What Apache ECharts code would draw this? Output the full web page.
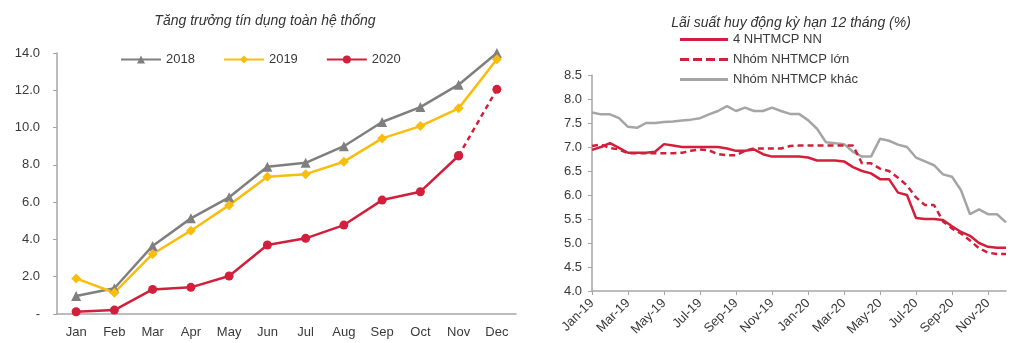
<!DOCTYPE html>
<html>
<head>
<meta charset="utf-8">
<script src="https://cdn.jsdelivr.net/npm/echarts@6/dist/echarts.min.js"></script>
<style>
  html, body { margin: 0; padding: 0; background: #fff; }
  #chart { width: 1016px; height: 343px; }
</style>
</head>
<body>
<div id="chart"></div>
<script>
// Left panel: system-wide credit growth (% YTD), by month
const months = ['Jan', 'Feb', 'Mar', 'Apr', 'May', 'Jun', 'Jul', 'Aug', 'Sep', 'Oct', 'Nov', 'Dec'];
const credit2018 = [0.97, 1.38, 3.65, 5.13, 6.26, 7.9, 8.11, 9.0, 10.3, 11.1, 12.3, 14.0];
const credit2019 = [1.91, 1.14, 3.22, 4.47, 5.84, 7.36, 7.5, 8.17, 9.42, 10.08, 11.03, 13.66];
const credit2020 = [0.12, 0.21, 1.32, 1.43, 2.04, 3.7, 4.06, 4.77, 6.11, 6.56, 8.49, null];
// Nov -> Dec 2020 estimate, drawn dashed
const credit2020Est = [null, null, null, null, null, null, null, null, null, null, 8.49, 12.05];

// Right panel: 12-month deposit rates (%), semi-monthly observations
const periods = [
  '2019-01-01', '2019-01-16', '2019-02-01', '2019-02-16', '2019-03-01', '2019-03-16',
  '2019-04-01', '2019-04-16', '2019-05-01', '2019-05-16', '2019-06-01', '2019-06-16',
  '2019-07-01', '2019-07-16', '2019-08-01', '2019-08-16', '2019-09-01', '2019-09-16',
  '2019-10-01', '2019-10-16', '2019-11-01', '2019-11-16', '2019-12-01', '2019-12-16',
  '2020-01-01', '2020-01-16', '2020-02-01', '2020-02-16', '2020-03-01', '2020-03-16',
  '2020-04-01', '2020-04-16', '2020-05-01', '2020-05-16', '2020-06-01', '2020-06-16',
  '2020-07-01', '2020-07-16', '2020-08-01', '2020-08-16', '2020-09-01', '2020-09-16',
  '2020-10-01', '2020-10-16', '2020-11-01', '2020-11-16', '2020-12-01'
];
const rateStateBanks = [
  6.94, 7.0, 7.08, 6.98, 6.88, 6.88, 6.88, 6.9, 7.06, 7.03, 7.0, 7.0,
  7.0, 7.0, 7.0, 6.97, 6.92, 6.92, 6.95, 6.85, 6.8, 6.8, 6.8, 6.8,
  6.78, 6.72, 6.72, 6.72, 6.7, 6.58, 6.5, 6.45, 6.33, 6.33, 6.05, 6.0,
  5.52, 5.5, 5.5, 5.48, 5.35, 5.23, 5.15, 5.0, 4.92, 4.9, 4.9
];
const rateLargeBanks = [
  7.02, 7.05, 6.98, 6.95, 6.87, 6.87, 6.87, 6.87, 6.87, 6.87, 6.88, 6.92,
  6.95, 6.93, 6.85, 6.83, 6.83, 6.92, 6.97, 6.97, 6.97, 6.97, 7.02, 7.03,
  7.03, 7.03, 7.03, 7.03, 7.03, 7.03, 6.66, 6.66, 6.55, 6.5, 6.36, 6.2,
  5.95, 5.79, 5.79, 5.45, 5.3, 5.2, 5.05, 4.89, 4.8, 4.77, 4.77
];
const rateOtherBanks = [
  7.72, 7.68, 7.68, 7.6, 7.42, 7.4, 7.5, 7.5, 7.52, 7.53, 7.55, 7.57,
  7.6, 7.68, 7.75, 7.85, 7.75, 7.82, 7.75, 7.75, 7.82, 7.75, 7.69, 7.69,
  7.56, 7.38, 7.1, 7.08, 7.06, 6.9, 6.8, 6.8, 7.17, 7.13, 7.05, 7.0,
  6.78, 6.7, 6.62, 6.43, 6.38, 6.1, 5.6, 5.7, 5.6, 5.6, 5.43
];

const creditTicks = { min: 0, max: 14, interval: 2 };
const rateTicks = { min: 4, max: 8.5, interval: 0.5 };
const monthAbbr = ['Jan', 'Feb', 'Mar', 'Apr', 'May', 'Jun', 'Jul', 'Aug', 'Sep', 'Oct', 'Nov', 'Dec'];

const FONT = '"Liberation Sans", Arial, sans-serif';
const TEXT = '#3a3a3a';
const AXIS = '#a6a6a6';
const GREY18 = '#7f7f7f';
const YELLOW = '#f9bd10';
const RED = '#d21f3c';
const GREY_OTHER = '#a5a5a5';

// Plain line swatches for the rate legend (48 x 3 box)
const ICON_SOLID = 'path://M0,0h48v3h-48z';
const ICON_DASHED = 'path://M0,0h9v3h-9z M13,0h9v3h-9z M26,0h9v3h-9z M39,0h9v3h-9z';

function periodLabel(p) {
  const [y, m] = p.split('-');
  return monthAbbr[Number(m) - 1] + '-' + y.slice(2);
}

const chart = echarts.init(document.getElementById('chart'), null, { renderer: 'canvas' });

chart.setOption({
  backgroundColor: '#fff',
  animation: false,
  textStyle: { fontFamily: FONT },
  title: [
    {
      text: 'Tăng trưởng tín dụng toàn hệ thống',
      left: 260, top: 9, textAlign: 'center',
      textStyle: { fontFamily: FONT, fontSize: 14, fontWeight: 'normal', fontStyle: 'italic', color: '#333' }
    },
    {
      text: 'Lãi suất huy động kỳ hạn 12 tháng (%)',
      left: 786, top: 11, textAlign: 'center',
      textStyle: { fontFamily: FONT, fontSize: 14, fontWeight: 'normal', fontStyle: 'italic', color: '#333' }
    }
  ],
  legend: [
    {
      data: ['2018', '2019', '2020'],
      left: 120, top: 53, padding: 0,
      itemWidth: 40, itemHeight: 10, itemGap: 28,
      textStyle: { fontFamily: FONT, fontSize: 13, color: TEXT }
    },
    {
      data: [
        { name: '4 NHTMCP NN', icon: ICON_SOLID },
        { name: 'Nhóm NHTMCP lớn', icon: ICON_DASHED },
        { name: 'Nhóm NHTMCP khác', icon: ICON_SOLID }
      ],
      orient: 'vertical',
      left: 680, top: 33, padding: 0,
      itemWidth: 48, itemHeight: 3, itemGap: 7,
      itemStyle: { borderWidth: 0 },
      textStyle: { fontFamily: FONT, fontSize: 13, color: TEXT }
    }
  ],
  grid: [
    { left: 57, right: 500, top: 53, bottom: 29 },
    { left: 592, right: 10, top: 75, bottom: 52 }
  ],
  xAxis: [
    {
      gridIndex: 0, type: 'category', data: months, boundaryGap: true,
      axisLine: { lineStyle: { color: AXIS, width: 1.5 } },
      axisTick: { lineStyle: { color: AXIS }, length: 4 },
      axisLabel: { color: TEXT, fontSize: 13, fontFamily: FONT, margin: 12, interval: 0 }
    },
    {
      gridIndex: 1, type: 'category', data: periods, boundaryGap: false,
      axisLine: { lineStyle: { color: AXIS, width: 1.5 } },
      axisTick: { lineStyle: { color: AXIS }, length: 4, interval: 3 },
      axisLabel: {
        color: TEXT, fontSize: 13, fontFamily: FONT, margin: 10, rotate: 45, interval: 3,
        formatter: periodLabel
      }
    }
  ],
  yAxis: [
    {
      gridIndex: 0, type: 'value', ...creditTicks,
      splitLine: { show: false },
      axisLine: { show: true, lineStyle: { color: AXIS, width: 1.5 } },
      axisTick: { show: true, lineStyle: { color: AXIS }, length: 4 },
      axisLabel: {
        color: TEXT, fontSize: 13, fontFamily: FONT, margin: 17,
        formatter: v => (v === 0 ? '-' : v.toFixed(1))
      }
    },
    {
      gridIndex: 1, type: 'value', ...rateTicks,
      splitLine: { show: false },
      axisLine: { show: true, lineStyle: { color: AXIS, width: 1.5 } },
      axisTick: { show: true, lineStyle: { color: AXIS }, length: 4 },
      axisLabel: {
        color: TEXT, fontSize: 13, fontFamily: FONT, margin: 10,
        formatter: v => v.toFixed(1)
      }
    }
  ],
  series: [
    {
      name: '2018', type: 'line', xAxisIndex: 0, yAxisIndex: 0, data: credit2018,
      symbol: 'triangle', symbolSize: 10,
      itemStyle: { color: GREY18 }, lineStyle: { color: GREY18, width: 2.5 }
    },
    {
      name: '2019', type: 'line', xAxisIndex: 0, yAxisIndex: 0, data: credit2019,
      symbol: 'diamond', symbolSize: 10,
      itemStyle: { color: YELLOW }, lineStyle: { color: YELLOW, width: 2.5 }
    },
    {
      name: '2020', type: 'line', xAxisIndex: 0, yAxisIndex: 0, data: credit2020,
      symbol: 'circle', symbolSize: 9,
      itemStyle: { color: RED }, lineStyle: { color: RED, width: 2.5 }
    },
    {
      name: '2020 (ước tính)', type: 'line', xAxisIndex: 0, yAxisIndex: 0, data: credit2020Est,
      symbol: 'circle', symbolSize: 9,
      itemStyle: { color: RED }, lineStyle: { color: RED, width: 2.5, type: [5, 4] }
    },
    {
      name: 'Nhóm NHTMCP khác', type: 'line', xAxisIndex: 1, yAxisIndex: 1, data: rateOtherBanks,
      symbol: 'none', itemStyle: { color: GREY_OTHER }, lineStyle: { color: GREY_OTHER, width: 2.5 }
    },
    {
      name: 'Nhóm NHTMCP lớn', type: 'line', xAxisIndex: 1, yAxisIndex: 1, data: rateLargeBanks,
      symbol: 'none', itemStyle: { color: RED }, lineStyle: { color: RED, width: 2.5, type: [6, 4] }
    },
    {
      name: '4 NHTMCP NN', type: 'line', xAxisIndex: 1, yAxisIndex: 1, data: rateStateBanks,
      symbol: 'none', itemStyle: { color: RED }, lineStyle: { color: RED, width: 2.5 }
    }
  ]
});
</script>
</body>
</html>
